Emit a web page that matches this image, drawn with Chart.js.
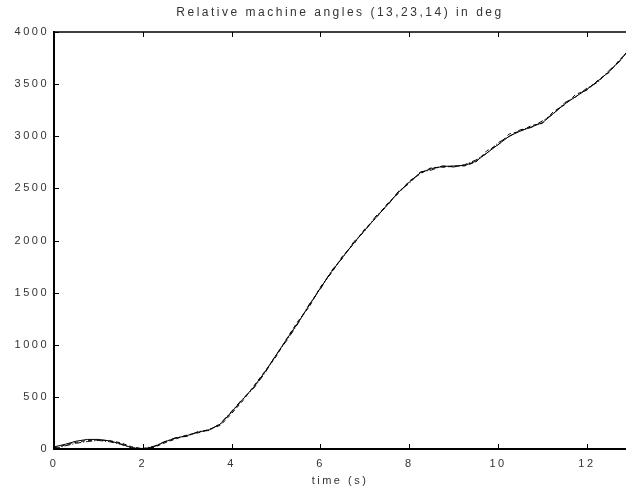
<!DOCTYPE html>
<html><head><meta charset="utf-8">
<script src="https://cdn.jsdelivr.net/npm/chart.js@4/dist/chart.umd.min.js"></script>
<style>html,body{margin:0;padding:0;background:#fff;overflow:hidden}</style>
</head><body><canvas id="c" width="626" height="495" style="width:626px;height:495px;display:block"></canvas>
<script>
const titleText = 'Relative machine angles (13,23,14) in deg';
const xLabel = 'time (s)';
const xTicks = [0, 2, 4, 6, 8, 10, 12];
const yTicks = [0, 500, 1000, 1500, 2000, 2500, 3000, 3500, 4000];
const timeS = [0,0.25,0.5,0.75,1,1.25,1.5,1.75,2,2.25,2.5,2.75,3,3.25,3.5,3.75,4,4.25,4.5,4.75,5,5.25,5.5,5.75,6,6.25,6.5,6.75,7,7.25,7.5,7.75,8,8.25,8.5,8.75,9,9.25,9.5,9.75,10,10.25,10.5,10.75,11,11.25,11.5,11.75,12,12.25,12.5,12.75,12.88];
const angle13 = [20,45,75,92,92,78,50,12,0,22,70,105,130,162,185,240,355,475,595,740,900,1060,1215,1380,1545,1700,1840,1975,2100,2220,2340,2460,2560,2650,2690,2710,2715,2720,2760,2840,2920,3000,3050,3090,3130,3220,3310,3380,3450,3530,3620,3730,3795];
const angle23 = [10,38,65,82,86,80,60,22,2,15,60,98,135,155,190,228,340,462,605,745,885,1065,1230,1365,1555,1690,1852,1965,2112,2215,2350,2450,2570,2640,2700,2702,2712,2716,2752,2862,2915,3022,3048,3102,3125,3238,3302,3402,3442,3538,3612,3742,3788];
const angle14 = [0,30,55,72,82,70,45,10,5,26,72,110,122,168,178,246,362,482,585,728,905,1045,1208,1390,1535,1712,1832,1988,2092,2235,2330,2468,2548,2658,2676,2716,2705,2728,2772,2838,2938,2998,3062,3084,3148,3216,3322,3378,3462,3518,3632,3722,3800];

const pts = ys => timeS.map((t, i) => ({x: t, y: ys[i]}));

const spacingPlugin = {
  id: 'spacing',
  beforeUpdate(c){ c.ctx.letterSpacing = '2.5px'; },
  beforeLayout(c){ c.ctx.letterSpacing = '2.5px'; },
  afterLayout(c){
    if (c.titleBlock) { c.titleBlock.left = c.chartArea.left; c.titleBlock.right = c.chartArea.right; }
  },
  beforeDraw(c){ c.ctx.letterSpacing = '2.5px'; }
};
const frame = {
  id: 'frame',
  afterDraw(c){
    const {ctx, chartArea: {left, right, top, bottom}, scales: {x, y}} = c;
    ctx.save();
    ctx.strokeStyle = '#000';
    ctx.lineWidth = 1;
    ctx.beginPath();
    x.ticks.forEach(t => {
      const px = Math.round(x.getPixelForValue(t.value)) + 0.5;
      ctx.moveTo(px, bottom); ctx.lineTo(px, bottom - 5);
      ctx.moveTo(px, top); ctx.lineTo(px, top + 5);
    });
    y.ticks.forEach(t => {
      const py = Math.round(y.getPixelForValue(t.value)) + 0.5;
      ctx.moveTo(left, py); ctx.lineTo(left + 5, py);
    });
    ctx.stroke();
    ctx.lineWidth = 1.5;
    ctx.beginPath();
    ctx.moveTo(left, top); ctx.lineTo(right, top);
    ctx.stroke();
    ctx.restore();
  }
};

Chart.defaults.font.family = 'Liberation Sans';
Chart.defaults.font.size = 11;
Chart.defaults.color = '#333';

const ds = (label, ys, dash) => ({
  label, data: pts(ys), borderColor: '#000', borderWidth: 1, pointRadius: 0,
  tension: 0, borderDash: dash, fill: false
});

new Chart(document.getElementById('c'), {
  type: 'line',
  data: { datasets: [
    ds('13', angle13, []),
    ds('23', angle23, [4, 3]),
    ds('14', angle14, [6, 2, 1, 2])
  ]},
  options: {
    responsive: false,
    devicePixelRatio: 1,
    animation: false,
    layout: { padding: 0 },
    plugins: {
      legend: { display: false },
      tooltip: { enabled: false },
      title: { display: true, text: titleText, color: '#333',
        font: { size: 12, weight: 'normal' }, lineHeight: 1.2, padding: { top: 5, bottom: 12.6 } }
    },
    scales: {
      x: {
        type: 'linear', min: 0, max: 12.88,
        afterBuildTicks: s => { s.ticks = xTicks.map(v => ({value: v})); },
        afterFit: s => { s.height = 46; },
        grid: { display: false, drawTicks: false },
        border: { display: true, color: '#000', width: 2 },
        ticks: { padding: 8, maxRotation: 0, autoSkip: false, color: '#333', callback: v => String(v) },
        title: { display: true, text: xLabel, color: '#333', padding: { top: 0, bottom: 7 } }
      },
      y: {
        type: 'linear', min: 0, max: 4000,
        afterBuildTicks: s => { s.ticks = yTicks.map(v => ({value: v})); },
        afterFit: s => { s.width = 54; },
        grid: { display: false, drawTicks: false },
        border: { display: true, color: '#000', width: 2 },
        ticks: { padding: 5, autoSkip: false, color: '#333', callback: v => String(v) }
      }
    }
  },
  plugins: [spacingPlugin, frame]
});
</script>
</body></html>
